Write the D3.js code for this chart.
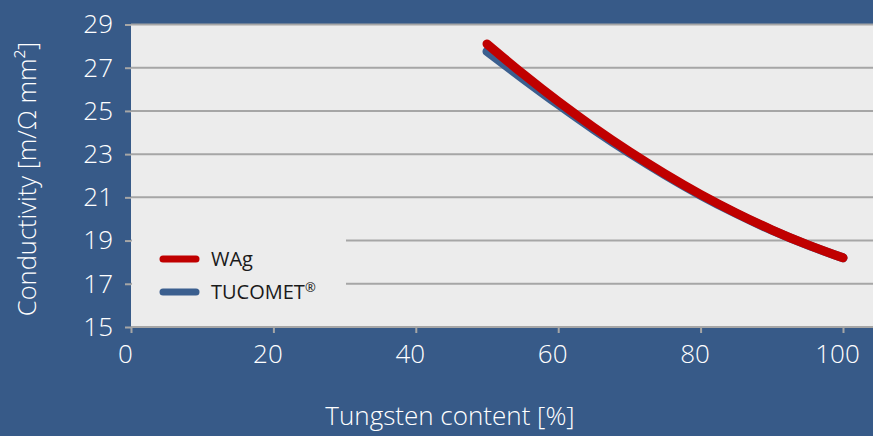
<!DOCTYPE html>
<html>
<head>
<meta charset="utf-8">
<script src="https://cdn.jsdelivr.net/npm/d3@7/dist/d3.min.js"></script>
<style>
  html, body { margin: 0; padding: 0; background: #375a88; }
  svg { display: block; }
</style>
</head>
<body>
<svg id="chart" width="873" height="436"></svg>
<script>
// ---- data ----
const tungsten = [50, 55, 60, 65, 70, 75, 80, 85, 90, 95, 100];
const wag = [28.1, 26.73, 25.44, 24.24, 23.12, 22.09, 21.14, 20.28, 19.5, 18.81, 18.2];
const tucomet = [27.75, 26.51, 25.3, 24.14, 23.05, 22.04, 21.1, 20.25, 19.48, 18.8, 18.2];
const seriesNames = ["WAg", "TUCOMET"];
const seriesColors = ["#c00000", "#3b5f8f"];
const xTicks = [0, 20, 40, 60, 80, 100];
const yTicks = [15, 17, 19, 21, 23, 25, 27, 29];
const xTitle = "Tungsten content [%]";
const yTitle = "Conductivity [m/Ω mm²]";

const W = 873, H = 436;
const svg = d3.select("#chart");
const font = "'Open Sans', 'Noto Sans', sans-serif";

const x = d3.scaleLinear().domain([0, 100]).range([131, 843]);
const y = d3.scaleLinear().domain([15, 29]).range([327, 24.5]);

// background
svg.append("rect").attr("width", W).attr("height", H).attr("fill", "#375a88");
// plot area
svg.append("rect").attr("x", x(0)).attr("y", y(29)).attr("width", W - x(0)).attr("height", y(15) - y(29)).attr("fill", "#ececec");

// gridlines
svg.append("g").selectAll("line").data(yTicks.filter(d => d !== 15)).join("line")
  .attr("x1", x(0)).attr("x2", W).attr("y1", d => y(d)).attr("y2", d => y(d))
  .attr("stroke", "#a6a6a6").attr("stroke-width", 2);

// y axis
const yAxis = svg.append("g").attr("transform", `translate(${x(0)},0)`)
  .call(d3.axisLeft(y).tickValues(yTicks).tickSize(6).tickPadding(12).tickFormat(d3.format("d")));
yAxis.select(".domain").remove();
yAxis.selectAll(".tick line").attr("stroke", "#a6a6a6").attr("stroke-width", 2);
yAxis.selectAll(".tick text").attr("fill", "#ffffff").attr("font-family", font).attr("font-weight", 300).attr("font-size", 26);

// x axis
const xAxis = svg.append("g").attr("transform", `translate(0,${y(15)})`)
  .call(d3.axisBottom(x).tickValues(xTicks).tickSize(6).tickPadding(12).tickFormat(d3.format("d")));
xAxis.select(".domain").attr("d", `M${x(0)},0H${W}`).attr("stroke", "#a6a6a6").attr("stroke-width", 2);
xAxis.selectAll(".tick line").attr("stroke", "#a6a6a6").attr("stroke-width", 2);
xAxis.selectAll(".tick text").attr("fill", "#ffffff").attr("font-family", font).attr("font-weight", 300).attr("font-size", 26).attr("dx", -6);

// titles
svg.append("text").attr("x", 450).attr("y", 425).attr("text-anchor", "middle")
  .attr("fill", "#ffffff").attr("font-family", font).attr("font-weight", 300).attr("font-size", 26).text(xTitle);
svg.append("text").attr("transform", "translate(36,179) rotate(-90)").attr("text-anchor", "middle")
  .attr("fill", "#ffffff").attr("font-family", font).attr("font-weight", 300).attr("font-size", 25.5).text(yTitle);

// legend box
svg.append("rect").attr("x", x(0) + 1).attr("y", 228).attr("width", 214).attr("height", 82).attr("fill", "#ececec");

// lines
const line = d3.line().x(d => x(d[0])).y(d => y(d[1])).curve(d3.curveMonotoneX);
const series = [tucomet, wag];
const cols = [seriesColors[1], seriesColors[0]];
series.forEach((vals, i) => {
  svg.append("path").datum(tungsten.map((t, j) => [t, vals[j]]))
    .attr("d", line).attr("fill", "none").attr("stroke", cols[i])
    .attr("stroke-width", 9).attr("stroke-linecap", "round").attr("stroke-linejoin", "round");
});

// legend entries
const legY = [259, 292];
seriesNames.forEach((n, i) => {
  svg.append("line").attr("x1", 163).attr("x2", 196).attr("y1", legY[i]).attr("y2", legY[i])
    .attr("stroke", seriesColors[i]).attr("stroke-width", 7).attr("stroke-linecap", "round");
  const t = svg.append("text").attr("x", 211).attr("y", legY[i] + 7).attr("fill", "#1a1a1a")
    .attr("font-family", font).attr("font-size", 20).text(n);
  if (i === 1) t.append("tspan").attr("font-size", 13).attr("dy", -7).text("®");
});
</script>
</body>
</html>
